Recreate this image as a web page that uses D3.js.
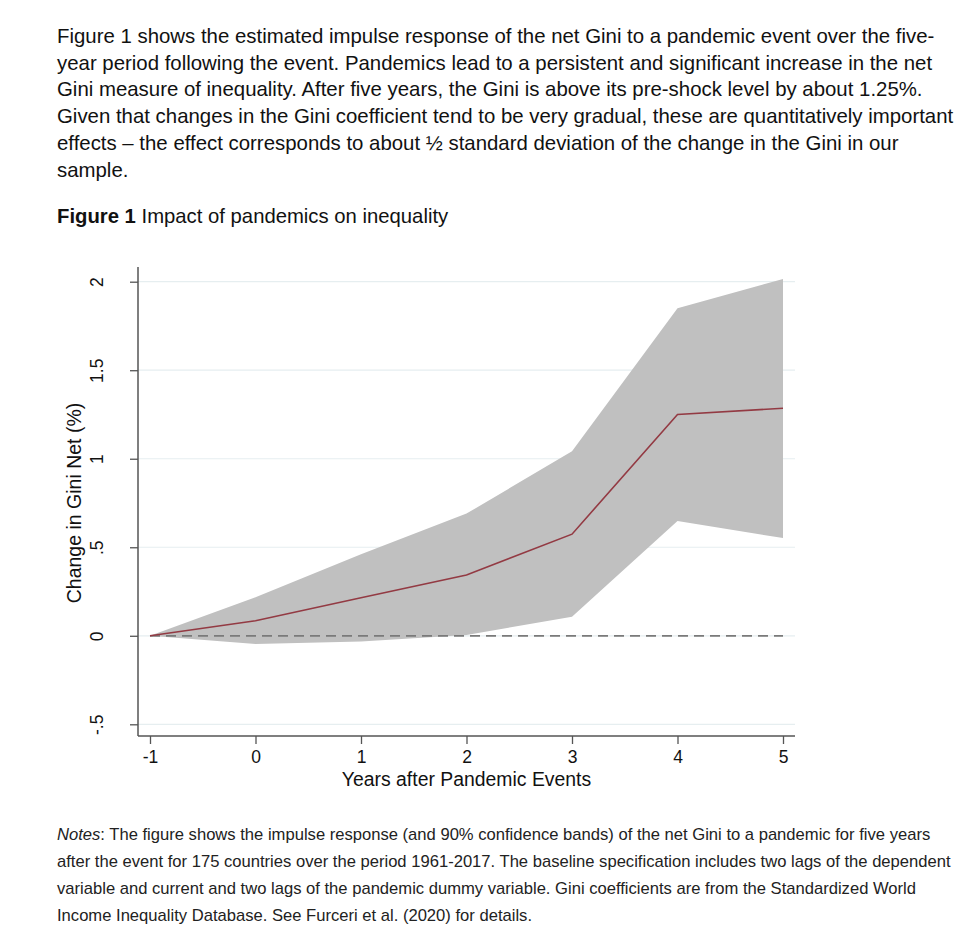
<!DOCTYPE html>
<html>
<head>
<meta charset="utf-8">
<script src="https://cdn.jsdelivr.net/npm/d3@7"></script>
<style>
  body { margin: 0; background: #fff; }
  text { font-family: "Liberation Sans", Arial, Helvetica, sans-serif; }
</style>
</head>
<body>
<div id="chart"></div>
<script>
// impulse response of net Gini
var years = [-1, 0, 1, 2, 3, 4, 5];
var irf   = [0, 0.085, 0.215, 0.343, 0.574, 1.25, 1.285];
var lower = [0, -0.047, -0.032, 0.005, 0.108, 0.648, 0.552];
var upper = [0, 0.217, 0.46, 0.69, 1.042, 1.85, 2.015];

var yTicks = [-0.5, 0, 0.5, 1, 1.5, 2];
var yTickLabels = ["-.5", "0", ".5", "1", "1.5", "2"];
var xTicks = [-1, 0, 1, 2, 3, 4, 5];

var introLines = [
    "Figure 1 shows the estimated impulse response of the net Gini to a pandemic event over the five-",
    "year period following the event. Pandemics lead to a persistent and significant increase in the net",
    "Gini measure of inequality. After five years, the Gini is above its pre-shock level by about 1.25%.",
    "Given that changes in the Gini coefficient tend to be very gradual, these are quantitatively important",
    "effects \u2013 the effect corresponds to about \u00bd standard deviation of the change in the Gini in our",
    "sample."
];
var noteLines = [
    ": The figure shows the impulse response (and 90% confidence bands) of the net Gini to a pandemic for five years",
    "after the event for 175 countries over the period 1961-2017. The baseline specification includes two lags of the dependent",
    "variable and current and two lags of the pandemic dummy variable. Gini coefficients are from the Standardized World",
    "Income Inequality Database. See Furceri et al. (2020) for details."
];

var width = 980, height = 948;

var svg = d3.select("#chart").append("svg")
    .attr("width", width)
    .attr("height", height);

svg.append("rect")
    .attr("width", width)
    .attr("height", height)
    .style("fill", "#fff");

// intro paragraph
svg.append("g").selectAll("text")
    .data(introLines)
    .enter().append("text")
    .attr("x", 57)
    .attr("y", function (d, i) { return 43 + i * 26.7; })
    .style("font-size", "20.4px")
    .style("fill", "#111")
    .text(function (d) { return d; });

// figure title
var title = svg.append("text")
    .attr("x", 57)
    .attr("y", 223)
    .style("font-size", "20.3px")
    .style("fill", "#111");
title.append("tspan").style("font-weight", "bold").text("Figure 1");
title.append("tspan").text(" Impact of pandemics on inequality");

// scales
var x = d3.scaleLinear().domain([-1, 5]).range([150, 783]);
var y = d3.scaleLinear().domain([-0.5, 2]).range([724.3, 281.7]);

var plotLeft = 138, plotRight = 795, plotTop = 267, plotBottom = 736;

// gridlines
svg.append("g").selectAll("line")
    .data(yTicks)
    .enter().append("line")
    .attr("x1", plotLeft)
    .attr("x2", plotRight)
    .attr("y1", function (d) { return y(d); })
    .attr("y2", function (d) { return y(d); })
    .style("stroke", "#e6eef0")
    .style("stroke-width", 1.2);

var rows = years.map(function (d, i) {
    return { year: d, irf: irf[i], lo: lower[i], hi: upper[i] };
});

// confidence band
var band = d3.area()
    .x(function (d) { return x(d.year); })
    .y0(function (d) { return y(d.lo); })
    .y1(function (d) { return y(d.hi); });

svg.append("path")
    .datum(rows)
    .attr("d", band)
    .style("fill", "#c0c0c0");

// zero reference line
svg.append("line")
    .attr("x1", x(-1))
    .attr("x2", x(5))
    .attr("y1", y(0))
    .attr("y2", y(0))
    .style("stroke", "#7a7a7a")
    .style("stroke-width", 1.8)
    .style("stroke-dasharray", "10,6");

// point estimate
var line = d3.line()
    .x(function (d) { return x(d.year); })
    .y(function (d) { return y(d.irf); });

svg.append("path")
    .datum(rows)
    .attr("d", line)
    .style("fill", "none")
    .style("stroke", "#933a43")
    .style("stroke-width", 1.6);

// x axis
var xAxis = svg.append("g")
    .attr("transform", "translate(0," + plotBottom + ")")
    .call(d3.axisBottom(x).tickValues(xTicks).tickSize(8).tickPadding(7)
        .tickFormat(function (d) { return String(d); }));
xAxis.select(".domain").remove();
xAxis.selectAll(".tick line").style("stroke", "#555").style("stroke-width", 1.3);
xAxis.selectAll(".tick text")
    .style("font-family", "'Liberation Sans', Arial, sans-serif")
    .style("font-size", "17.5px")
    .style("fill", "#111");
svg.append("line")
    .attr("x1", plotLeft).attr("x2", plotRight)
    .attr("y1", plotBottom).attr("y2", plotBottom)
    .style("stroke", "#555").style("stroke-width", 1.5);

// y axis
var yAxis = svg.append("g")
    .attr("transform", "translate(" + plotLeft + ",0)")
    .call(d3.axisLeft(y).tickValues(yTicks).tickSize(8)
        .tickFormat(function (d, i) { return yTickLabels[i]; }));
yAxis.select(".domain").remove();
yAxis.selectAll(".tick line").style("stroke", "#555").style("stroke-width", 1.3);
yAxis.selectAll(".tick text")
    .attr("x", null).attr("dy", null)
    .attr("transform", "translate(-41,0) rotate(-90)")
    .attr("text-anchor", "middle")
    .attr("dominant-baseline", "central")
    .style("font-family", "'Liberation Sans', Arial, sans-serif")
    .style("font-size", "17.5px")
    .style("fill", "#111");
svg.append("line")
    .attr("x1", plotLeft).attr("x2", plotLeft)
    .attr("y1", plotTop).attr("y2", plotBottom)
    .style("stroke", "#555").style("stroke-width", 1.5);

// axis titles
svg.append("text")
    .attr("x", (x(-1) + x(5)) / 2)
    .attr("y", 786)
    .attr("text-anchor", "middle")
    .style("font-size", "19.4px")
    .style("fill", "#111")
    .text("Years after Pandemic Events");

svg.append("text")
    .attr("transform", "translate(81,503) rotate(-90)")
    .attr("text-anchor", "middle")
    .style("font-size", "19.5px")
    .style("fill", "#111")
    .text("Change in Gini Net (%)");

// notes
svg.append("g").selectAll("text")
    .data(noteLines)
    .enter().append("text")
    .attr("x", 57)
    .attr("y", function (d, i) { return 840 + i * 27; })
    .style("font-size", "16.6px")
    .style("fill", "#222")
    .each(function (d, i) {
        var t = d3.select(this);
        if (i === 0) {
            t.append("tspan").style("font-style", "italic").text("Notes");
        }
        t.append("tspan").text(d);
    });
</script>
</body>
</html>
